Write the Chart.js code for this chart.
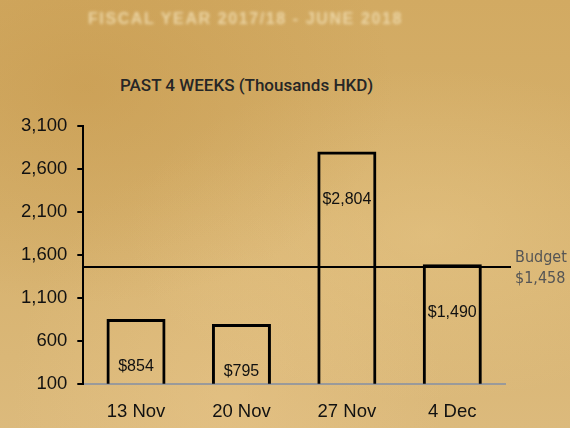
<!DOCTYPE html>
<html>
<head>
<meta charset="utf-8">
<script src="https://cdn.jsdelivr.net/npm/chart.js@4.4.1/dist/chart.umd.min.js"></script>
<style>
  html, body { margin: 0; padding: 0; }
  body {
    width: 570px; height: 428px; position: relative; overflow: hidden;
    background:
      radial-gradient(ellipse at 15% 20%, rgba(190,140,60,0.35), rgba(190,140,60,0) 45%),
      radial-gradient(ellipse at 75% 55%, rgba(240,210,150,0.35), rgba(240,210,150,0) 50%),
      radial-gradient(ellipse at 40% 95%, rgba(235,200,140,0.4), rgba(235,200,140,0) 45%),
      linear-gradient(180deg, #d2aa62 0%, #d6b16d 50%, #dcba7c 100%);
  }
  #topTitle {
    position: absolute; left: 88px; top: 10px;
    font: bold 16px "Liberation Sans", Arial, sans-serif; letter-spacing: 1.6px;
    color: #f1deb2; filter: blur(1.6px); opacity: 0.85; white-space: nowrap;
  }
  #subTitle {
    position: absolute; left: 120px; top: 75px;
    font: 500 17px Roboto, "Liberation Sans", sans-serif;
    color: #262626; white-space: nowrap;
  }
  canvas { position: absolute; left: 0; top: 0; }
</style>
</head>
<body>
<div id="topTitle">FISCAL YEAR 2017/18 - JUNE 2018</div>
<div id="subTitle">PAST 4 WEEKS (Thousands HKD)</div>
<canvas id="chart" width="570" height="447"></canvas>
<script>
const weeks = ['13 Nov', '20 Nov', '27 Nov', '4 Dec'];
const sales = [854, 795, 2804, 1490];
const budget = 1458;
const yTicks = [100, 600, 1100, 1600, 2100, 2600, 3100];

function money(v) {
    return '$' + v.toLocaleString('en-US');
}

// budget line + value labels inside the bars
const overlayPlugin = {
    id: 'overlay',
    afterDatasetsDraw(chart) {
        const ctx = chart.ctx;
        const area = chart.chartArea;
        const y = chart.scales.y;
        const by = y.getPixelForValue(budget);

        ctx.save();
        ctx.strokeStyle = '#000';
        ctx.lineWidth = 2;
        ctx.beginPath();
        ctx.moveTo(area.left, by);
        ctx.lineTo(area.right + 6, by);
        ctx.stroke();

        ctx.fillStyle = '#555';
        ctx.font = '16px "Liberation Sans Narrow", "DejaVu Sans Condensed", sans-serif';
        ctx.textAlign = 'left';
        ctx.textBaseline = 'middle';
        ctx.fillText('Budget', area.right + 10, by - 9);
        ctx.fillText(money(budget), area.right + 10, by + 12);

        ctx.fillStyle = '#111';
        ctx.font = '16px "Liberation Sans", Arial, sans-serif';
        ctx.textAlign = 'center';
        chart.getDatasetMeta(0).data.forEach((bar, i) => {
            ctx.fillText(money(sales[i]), bar.x, bar.y + 48);
        });
        ctx.restore();
    }
};

new Chart(document.getElementById('chart'), {
    type: 'bar',
    data: {
        labels: weeks,
        datasets: [{
            data: sales,
            backgroundColor: 'rgba(0,0,0,0)',
            borderColor: '#000',
            borderWidth: 3,
            borderSkipped: 'bottom',
            barPercentage: 0.7,
            categoryPercentage: 0.8
        }]
    },
    options: {
        responsive: false,
        animation: false,
        layout: { padding: { left: 11, right: 65, top: 126, bottom: 15 } },
        plugins: {
            legend: { display: false },
            tooltip: { enabled: false }
        },
        scales: {
            x: {
                grid: { display: false },
                border: { color: '#9a9a9a', width: 2 },
                ticks: {
                    color: '#111',
                    font: { family: '"Liberation Sans", Arial, sans-serif', size: 18.5 },
                    padding: 9
                }
            },
            y: {
                min: 100,
                max: 3100,
                afterBuildTicks(axis) {
                    axis.ticks = yTicks.map(v => ({ value: v }));
                },
                grid: { drawOnChartArea: false, color: '#000', lineWidth: 2, tickLength: 6 },
                border: { color: '#000', width: 2 },
                ticks: {
                    color: '#111',
                    font: { family: '"Liberation Sans", Arial, sans-serif', size: 18.5 },
                    padding: 10,
                    callback: v => v.toLocaleString('en-US')
                }
            }
        }
    },
    plugins: [overlayPlugin]
});
</script>
</body>
</html>
